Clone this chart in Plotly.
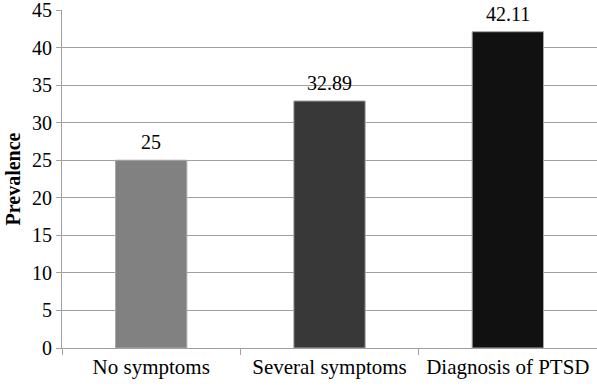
import plotly.graph_objects as go

categories = ["No symptoms", "Several symptoms", "Diagnosis of PTSD"]
values = [25, 32.89, 42.11]
labels = ["25", "32.89", "42.11"]
colors = ["#818181", "#383838", "#111111"]
y_ticks = [0, 5, 10, 15, 20, 25, 30, 35, 40, 45]

fig = go.Figure()
fig.add_trace(go.Bar(
    x=categories, y=values,
    marker=dict(color=colors, line=dict(color="#a8a8a8", width=1)),
    width=0.4, hoverinfo="skip",
))
for cat, val, lab in zip(categories, values, labels):
    fig.add_annotation(
        x=cat, y=val, text=lab, showarrow=False, yanchor="bottom", yshift=5,
        font=dict(family="Liberation Serif", size=20, color="black"),
    )
fig.update_layout(
    width=597, height=386,
    margin=dict(l=62, r=0, t=10, b=38, autoexpand=False),
    plot_bgcolor="white", paper_bgcolor="white",
    showlegend=False,
    font=dict(family="Liberation Serif", color="black"),
)
fig.update_yaxes(
    range=[0, 45], tickvals=y_ticks, ticktext=[str(v) for v in y_ticks],
    showgrid=True, gridcolor="#a0a0a0", gridwidth=1,
    showline=True, linecolor="#a0a0a0", linewidth=1,
    ticks="outside", ticklen=5, tickcolor="#a0a0a0",
    tickfont=dict(family="Liberation Serif", size=20, color="black"),
    ticklabeloverflow="allow",
    title=dict(text="<b>Prevalence</b>", font=dict(family="Liberation Serif", size=20, color="black"), standoff=6),
    zeroline=False, automargin=False,
)
fig.update_xaxes(
    showline=True, linecolor="#a0a0a0", linewidth=1,
    ticks="outside", ticklen=6, tickcolor="#a0a0a0", tickson="boundaries",
    tickfont=dict(family="Liberation Serif", size=21, color="black"),
    ticklabeloverflow="allow",
    automargin=False,
)
fig.write_html(
    "out.html",
    config={"displayModeBar": False},
    post_script="document.body.style.margin='0';document.body.style.overflow='hidden';",
)
